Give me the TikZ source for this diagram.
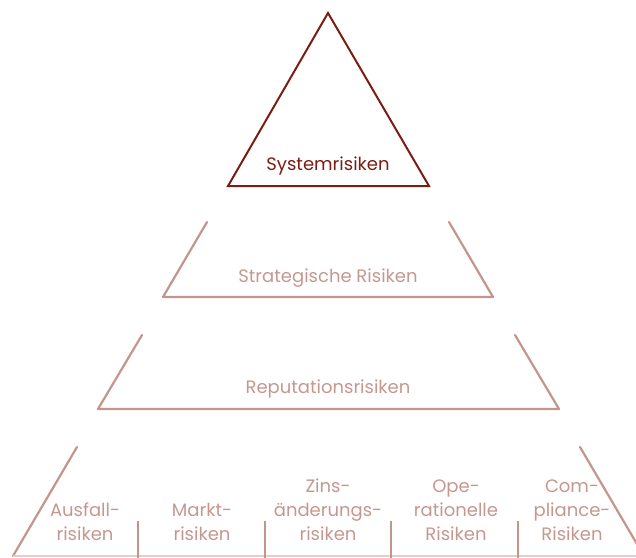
\documentclass[tikz,border=0pt]{standalone}
\usepackage{fontspec}
\setmainfont{Poppins}
\definecolor{topred}{HTML}{7A1E14}
\definecolor{rose}{HTML}{C4958C}
\definecolor{rosetext}{HTML}{C49890}
\definecolor{rosefaint}{HTML}{E6CDC8}
\begin{document}
\begin{tikzpicture}[x=1pt,y=-1pt,
  lvl/.style={draw=rose,line width=2.2pt,line cap=round,line join=round},
  lbl/.style={text=rosetext,font=\fontsize{18}{24}\selectfont,inner sep=0pt,anchor=base},
  col/.style={text=rosetext,font=\fontsize{18}{24}\selectfont,inner sep=0pt,align=center,anchor=base}]
\useasboundingbox (0,0) rectangle (636,557);
\clip (0,0) rectangle (636,557);
% top triangle
\coordinate (tA) at (328,13);
\coordinate (tL) at (228,186);
\coordinate (tR) at (429,186);
\draw[topred,line width=2pt,line join=miter] (tA) -- (tR) -- (tL) -- cycle;
\node[lbl,text=topred] (sys) at (328,170) {Systemrisiken};
% strategic
\coordinate (sTL) at (207,222);
\coordinate (sBL) at (163,297);
\coordinate (sBR) at (493,297);
\coordinate (sTR) at (449,222);
\draw[lvl] (sTL) -- (sBL) -- (sBR) -- (sTR);
\node[lbl] (strat) at (328,282) {Strategische Risiken};
% reputation
\coordinate (rTL) at (142,335);
\coordinate (rBL) at (98,409);
\coordinate (rBR) at (559,409);
\coordinate (rTR) at (515,335);
\draw[lvl] (rTL) -- (rBL) -- (rBR) -- (rTR);
\node[lbl] (rep) at (328,393) {Reputationsrisiken};
% bottom level
\coordinate (bTL) at (77,447);
\coordinate (bBL) at (13,556);
\coordinate (bTR) at (580,447);
\coordinate (bBR) at (644,556);
\draw[lvl] (bTL) -- (bBL);
\draw[lvl] (bTR) -- (bBR);
\draw[rosefaint,line width=1.5pt] (bBL) -- (bBR);
\foreach \x/\n in {138/d1,265/d2,391/d3,518/d4}{
  \coordinate (\n t) at (\x,521);
  \coordinate (\n b) at (\x,560);
  \draw[draw=rose,line width=2.2pt] (\n t) -- (\n b);
}
\node[col] (c1) at (85,540) {Ausfall-\\risiken};
\node[col] (c2) at (202,540) {Markt-\\risiken};
\node[col] (c3) at (328,540) {Zins-\\änderungs-\\risiken};
\node[col] (c4) at (456,540) {Ope-\\rationelle\\Risiken};
\node[col] (c5) at (572,540) {Com-\\pliance-\\Risiken};
\end{tikzpicture}
\end{document}
